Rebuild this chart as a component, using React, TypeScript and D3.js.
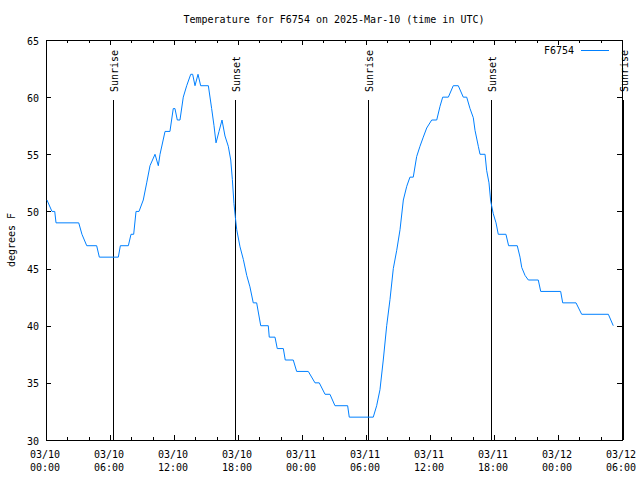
import React, { useRef, useEffect } from 'react';
import * as d3 from 'd3';

const title = 'Temperature for F6754 on 2025-Mar-10 (time in UTC)';
const seriesName = 'F6754';
const yLabel = 'degrees F';

// hours since 03/10 00:00 UTC
const hours = [
  0.09, 0.56, 0.82, 0.94, 3.07, 3.37, 3.82, 4.75, 5.0, 6.78, 6.97, 7.72, 7.97, 8.22,
  8.44, 8.72, 9.12, 9.44, 9.75, 10.22, 10.53, 10.69, 11.16, 11.62, 11.93, 12.09, 12.31,
  12.56, 12.87, 13.19, 13.57, 13.75, 13.97, 14.25, 14.5, 15.22, 15.53, 15.75, 15.94,
  16.22, 16.5, 16.78, 17.09, 17.32, 17.47, 17.62, 17.75, 17.88, 18.19, 18.5, 18.82,
  19.12, 19.43, 19.75, 20.13, 20.84, 20.93, 21.47, 21.68, 22.25, 22.43, 23.18, 23.5,
  24.59, 25.22, 25.62, 26.16, 26.62, 27.09, 28.28, 28.43, 30.68, 31.0, 31.31, 31.62,
  31.94, 32.25, 32.56, 32.88, 33.19, 33.5, 33.82, 34.12, 34.43, 34.75, 35.06, 35.37,
  35.69, 36.16, 36.63, 36.94, 37.19, 37.72, 38.18, 38.65, 39.12, 39.44, 39.75, 40.06,
  40.22, 40.53, 40.69, 41.16, 41.31, 41.53, 41.69, 41.93, 42.19, 42.4, 43.12, 43.37,
  44.18, 44.44, 44.6, 44.91, 45.22, 46.15, 46.38, 48.25, 48.44, 49.69, 50.22, 52.72,
  53.18,
];
const tempF = [
  51, 50, 50, 49, 49, 48, 47, 47, 46, 46, 47, 47, 48, 48,
  50, 50, 51, 52.5, 54, 55, 54, 55, 57, 57, 59, 59, 58,
  58, 60, 61, 62, 62, 61, 62, 61, 61, 59, 57.5, 56,
  57, 58, 56.6, 55.7, 54.5, 52.8, 50.7, 49.5, 48.4, 46.9, 45.8, 44.4,
  43.4, 42, 42, 40, 40, 39, 39, 38, 38, 37, 37, 36,
  36, 35, 35, 34, 34, 33, 33, 32, 32, 33, 34.4, 37,
  40, 42.3, 45, 46.6, 48.4, 51, 52.2, 53, 53, 54.8, 55.7, 56.5,
  57.3, 58, 58, 59.2, 60, 60, 61, 61, 60, 60, 59, 58.2,
  57.1, 55.7, 55, 55, 53.6, 52.5, 50.9, 49.8, 49, 48, 48, 47,
  47, 46, 45.1, 44.4, 44, 44, 43, 43, 42, 42, 41, 41,
  40,
];

const eventNames = ['Sunrise', 'Sunset', 'Sunrise', 'Sunset', 'Sunrise'];
const eventHours = [6.31, 17.75, 30.22, 41.69, 54.09];

const xTickDates = ['03/10', '03/10', '03/10', '03/10', '03/11', '03/11', '03/11', '03/11', '03/12', '03/12'];
const xTickTimes = ['00:00', '06:00', '12:00', '18:00', '00:00', '06:00', '12:00', '18:00', '00:00', '06:00'];
const yTicks = [30, 35, 40, 45, 50, 55, 60, 65];

const App: React.FC = () => {
  const ref = useRef<SVGSVGElement | null>(null);
  const width = 640;
  const height = 480;

  useEffect(() => {
    if (!ref.current) return;
    const svg = d3.select<SVGSVGElement, unknown>(ref.current);
    svg.selectAll('*').remove();

    const left = 46, right = 622, top = 40, bottom = 440;
    const font = "'DejaVu Sans Mono', monospace";

    const x = d3.scaleLinear().domain([0, 54]).range([left, right]);
    const y = d3.scaleLinear().domain([30, 65]).range([bottom, top]);
    const graphY = d3.scaleLinear().domain([0, 1]).range([bottom, top]);

    const g = svg.append('g').attr('shape-rendering', 'crispEdges');

    // title
    svg.append('text')
      .attr('x', (left + right) / 2)
      .attr('y', 19)
      .attr('text-anchor', 'middle')
      .attr('dominant-baseline', 'central')
      .style('font-family', font)
      .style('font-size', '10px')
      .text(title);

    // y label
    svg.append('text')
      .attr('transform', `translate(11, ${(top + bottom) / 2}) rotate(-90)`)
      .attr('text-anchor', 'middle')
      .attr('dominant-baseline', 'central')
      .style('font-family', font)
      .style('font-size', '10px')
      .text(yLabel);

    // ticks: major on all sides, minor every 2 h on x
    const major = 5, minor = 3;
    yTicks.forEach(v => {
      g.append('line').attr('x1', left).attr('x2', left + major)
        .attr('y1', y(v) + 0.5).attr('y2', y(v) + 0.5).attr('stroke', '#000');
      g.append('line').attr('x1', right - major).attr('x2', right)
        .attr('y1', y(v) + 0.5).attr('y2', y(v) + 0.5).attr('stroke', '#000');
      svg.append('text')
        .attr('x', left - 7)
        .attr('y', y(v) + 1)
        .attr('text-anchor', 'end')
        .attr('dominant-baseline', 'central')
        .style('font-family', font)
        .style('font-size', '10px')
        .text(v);
    });

    d3.range(0, 55, 2).forEach(h => {
      const len = h % 6 === 0 ? major : minor;
      const xx = Math.round(x(h)) + 0.5;
      g.append('line').attr('x1', xx).attr('x2', xx)
        .attr('y1', bottom).attr('y2', bottom - len).attr('stroke', '#000');
      g.append('line').attr('x1', xx).attr('x2', xx)
        .attr('y1', top).attr('y2', top + len).attr('stroke', '#000');
    });

    xTickDates.forEach((d, i) => {
      const t = svg.append('text')
        .attr('x', x(i * 6) - 1)
        .attr('text-anchor', 'middle')
        .style('font-family', font)
        .style('font-size', '10px');
      t.append('tspan').attr('x', x(i * 6) - 1).attr('y', 458).text(d);
      t.append('tspan').attr('x', x(i * 6) - 1).attr('y', 471).text(xTickTimes[i]);
    });

    // border
    g.append('rect')
      .attr('x', left + 0.5)
      .attr('y', top + 0.5)
      .attr('width', right - left)
      .attr('height', bottom - top)
      .attr('fill', 'none')
      .attr('stroke', '#000');

    // temperature line
    const pts = hours.map((h, i) => [h, tempF[i]] as [number, number]);
    const line = d3.line<[number, number]>()
      .x(d => x(d[0]))
      .y(d => y(d[1]));
    svg.append('path')
      .datum(pts)
      .attr('d', line)
      .attr('fill', 'none')
      .attr('stroke', '#0080ff')
      .attr('stroke-width', 1);

    // sunrise / sunset markers
    eventHours.forEach((h, i) => {
      const xx = Math.round(x(h)) + 0.5;
      g.append('line')
        .attr('x1', xx).attr('x2', xx)
        .attr('y1', bottom).attr('y2', graphY(0.85))
        .attr('stroke', '#000');
      svg.append('text')
        .attr('transform', `translate(${x(h) + 1.5}, ${graphY(0.87)}) rotate(-90)`)
        .attr('text-anchor', 'start')
        .attr('dominant-baseline', 'central')
        .style('font-family', font)
        .style('font-size', '10px')
        .text(eventNames[i]);
    });

    // legend
    svg.append('text')
      .attr('x', 574)
      .attr('y', 50)
      .attr('text-anchor', 'end')
      .attr('dominant-baseline', 'central')
      .style('font-family', font)
      .style('font-size', '10px')
      .text(seriesName);
    g.append('line')
      .attr('x1', 581).attr('x2', 609)
      .attr('y1', 50.5).attr('y2', 50.5)
      .attr('stroke', '#0080ff');
  }, []);

  return (
    <svg
      ref={ref}
      width={width}
      height={height}
      style={{ position: 'absolute', left: 0, top: 0, background: '#fff' }}
    />
  );
};

export default App;
